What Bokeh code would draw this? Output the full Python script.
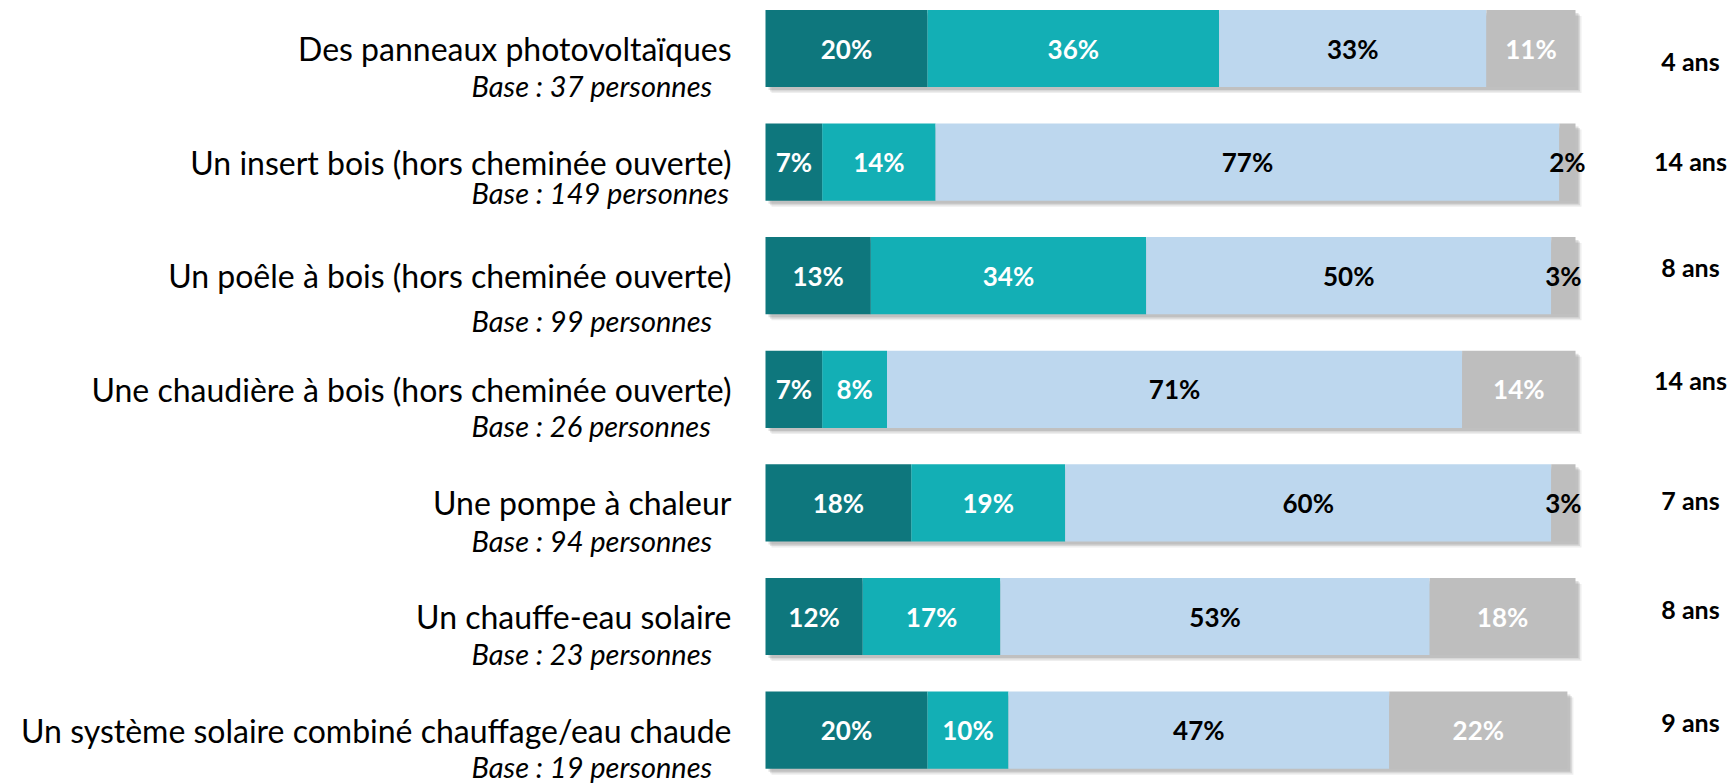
from bokeh.plotting import figure
from bokeh.models import ColumnDataSource, Range1d
from bokeh.core.properties import value
from bokeh.embed import file_html
from bokeh.resources import INLINE

# ---------------- data ----------------
categories = [
    "Des panneaux photovoltaïques",
    "Un insert bois (hors cheminée ouverte)",
    "Un poêle à bois (hors cheminée ouverte)",
    "Une chaudière à bois (hors cheminée ouverte)",
    "Une pompe à chaleur",
    "Un chauffe-eau solaire",
    "Un système solaire combiné chauffage/eau chaude",
]
bases = [
    "Base : 37 personnes",
    "Base : 149 personnes",
    "Base : 99 personnes",
    "Base : 26 personnes",
    "Base : 94 personnes",
    "Base : 23 personnes",
    "Base : 19 personnes",
]
durations = ["4 ans", "14 ans", "8 ans", "14 ans", "7 ans", "8 ans", "9 ans"]
seg1 = [20, 7, 13, 7, 18, 12, 20]
seg2 = [36, 14, 34, 8, 19, 17, 10]
seg3 = [33, 77, 50, 71, 60, 53, 47]
seg4 = [11, 2, 3, 14, 3, 18, 22]

# ---------------- layout ----------------
W, H = 1730, 784
BAR_X0 = 765              # screen px of 0 %
PX_PER_PCT = 8.10
ROW0 = 48                 # screen px of first row centre
ROW_PITCH = 113.6
px = 1.0 / PX_PER_PCT     # one px in x data units
py = 1.0 / ROW_PITCH      # one px in y data units

# extra vertical offsets (px) of secondary texts, as in the original layout
base_dy = [37, 30, 45, 36, 38, 37, 36]
dur_dy = [12, -1, -9, -9, -3, -8, -8]

colors = ["#0E777D", "#13AFB5", "#BDD7EE", "#BEBEBE"]

x_start = (0 - BAR_X0) / PX_PER_PCT
x_end = (W - BAR_X0) / PX_PER_PCT
y_top = ROW0 / ROW_PITCH
y_bot = -(H - ROW0) / ROW_PITCH

p = figure(width=W, height=H, x_range=Range1d(x_start, x_end),
           y_range=Range1d(y_bot, y_top), output_backend="svg",
           toolbar_location=None, x_axis_type=None, y_axis_type=None,
           min_border=0, outline_line_color=None)
p.grid.visible = False
p.background_fill_color = "white"

n = len(categories)
ys = [-i for i in range(n)]
segs = [seg1, seg2, seg3, seg4]
BAR_H = 0.68

# shadows
totals = [a + b + c + d for a, b, c, d in zip(seg1, seg2, seg3, seg4)]
for k, (off, alpha) in enumerate([(6, 0.10), (4.5, 0.14), (3, 0.18)]):
    p.hbar(y=[y - off * py for y in ys], height=BAR_H, left=[off * px] * n,
           right=[t + off * px for t in totals], color="#555555",
           fill_alpha=alpha, line_color=None)

# bars
lefts = [0] * n
for si, seg in enumerate(segs):
    rights = [l + v for l, v in zip(lefts, seg)]
    src = ColumnDataSource(dict(y=ys, left=lefts, right=rights))
    p.hbar(y="y", height=BAR_H, left="left", right="right", source=src,
           fill_color=colors[si], line_color=None)
    mids = [(l + r) / 2 for l, r in zip(lefts, rights)]
    txt = [f"{v}%" for v in seg]
    if si in (0, 1):
        tcol = ["white"] * n
    elif si == 2:
        tcol = ["black"] * n
    else:
        tcol = ["white" if v >= 5 else "black" for v in seg]
    p.text(x=mids, y=ys, text=txt, text_color=tcol, text_align="center",
           text_baseline="middle", text_font=value("Lato"),
           text_font_size=value("26px"), text_font_style="bold")
    lefts = rights

# category labels
lab_x = (731 - BAR_X0) / PX_PER_PCT
p.text(x=[lab_x] * n, y=ys, text=categories, text_align="right",
       text_baseline="middle", text_font=value("Lato"),
       text_font_size=value("32px"), text_color="black")

base_x = (471 - BAR_X0) / PX_PER_PCT
p.text(x=[base_x] * n, y=[y - d * py for y, d in zip(ys, base_dy)], text=bases,
       text_align="left", text_baseline="middle", text_font=value("Lato"),
       text_font_size=value("29px"), text_font_style="italic", text_color="black")

dur_x = (1690 - BAR_X0) / PX_PER_PCT
p.text(x=[dur_x] * n, y=[y - d * py for y, d in zip(ys, dur_dy)], text=durations,
       text_align="center", text_baseline="middle", text_font=value("Lato"),
       text_font_size=value("25px"), text_font_style="bold", text_color="black")

open("out.html", "w").write(file_html(p, INLINE))
